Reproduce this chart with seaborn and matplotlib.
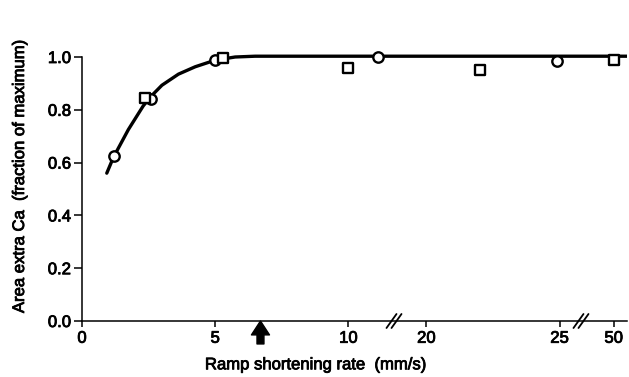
import numpy as np
import pandas as pd
import matplotlib
matplotlib.use("Agg")
import matplotlib.pyplot as plt
import matplotlib.patheffects as pe
import seaborn as sns

# ---- data ----
circle_x = [1.2, 2.6, 5.0, 11.1, 24.9]
circle_y = [0.625, 0.84, 0.99, 1.0, 0.985]
square_x = [2.35, 5.3, 10.0, 22.0, 50.0]
square_y = [0.845, 0.995, 0.96, 0.95, 0.99]
curve_x = [0.93, 1.18, 1.74, 2.3, 2.6, 3.0, 3.62, 4.25, 5.0, 5.75, 6.5, 10.0, 20.0, 25.0, 50.0, 50.5]
curve_y = [0.56, 0.62, 0.725, 0.815, 0.852, 0.893, 0.935, 0.963, 0.988, 1.0, 1.003, 1.003, 1.003, 1.003, 1.003, 1.003]
x_ticks = [0, 5, 10, 20, 25, 50]
x_ticklabels = ["0", "5", "10", "20", "25", "50"]
y_ticks = [0.0, 0.2, 0.4, 0.6, 0.8, 1.0]
y_ticklabels = ["0.0", "0.2", "0.4", "0.6", "0.8", "1.0"]
arrow_x = 6.7
xlabel = "Ramp shortening rate  (mm/s)"
ylabel = "Area extra Ca  (fraction of maximum)"

sns.set_theme(style="ticks")
plt.rcParams["font.family"] = ["Liberation Sans", "DejaVu Sans"]

fig = plt.figure(figsize=(6.29, 3.77), dpi=100)
ax = fig.add_axes([82 / 629, 56 / 377, 545 / 629, 290.4 / 377])

# broken x axis as a piecewise-linear scale
xk = [-10, 11.70, 18.80, 25.80, 48.80, 60]
dk = [-10, 11.70, 11.73, 18.73, 18.76, 29.96]


def fwd(x):
    return np.interp(x, xk, dk)


def inv(d):
    return np.interp(d, dk, xk)


ax.set_xscale("function", functions=(fwd, inv))

curve = pd.DataFrame({"x": curve_x, "y": curve_y})
circles = pd.DataFrame({"x": circle_x, "y": circle_y})
squares = pd.DataFrame({"x": square_x, "y": square_y})

sns.lineplot(data=curve, x="x", y="y", ax=ax, color="black", lw=2.4,
             sort=False, zorder=2)
sns.scatterplot(data=circles, x="x", y="y", ax=ax, marker="o", s=56,
                facecolor="white", edgecolor="black", linewidth=1.7,
                zorder=3, clip_on=False)
sns.scatterplot(data=squares, x="x", y="y", ax=ax, marker="s", s=56,
                facecolor="white", edgecolor="black", linewidth=1.7,
                zorder=3, clip_on=False)

ax.set_xlim(0, 50.5)
ax.set_ylim(0, 1.1)
ax.set_xticks(x_ticks)
ax.set_xticklabels(x_ticklabels)
ax.xaxis.set_minor_locator(matplotlib.ticker.NullLocator())
ax.set_yticks(y_ticks)
ax.set_yticklabels(y_ticklabels)

for s in ["top", "right"]:
    ax.spines[s].set_visible(False)
ax.spines["left"].set_bounds(0, 1.0)
for s in ["left", "bottom"]:
    ax.spines[s].set_linewidth(1.1)
    ax.spines[s].set_color("black")

ax.tick_params(axis="x", direction="out", length=4, width=1.1, pad=3,
               labelsize=12, colors="black")
ax.tick_params(axis="y", direction="out", length=6, width=1.1, pad=2,
               labelsize=12, colors="black")

ax.set_xlabel(xlabel, fontsize=12, color="black")
ax.set_ylabel(ylabel, fontsize=12, color="black")
ax.xaxis.set_label_coords(0.429, -0.125)
ax.yaxis.set_label_coords((27 - 82) / 545, 0.50)

bold = [pe.withStroke(linewidth=0.6, foreground="black")]
for t in ax.get_xticklabels() + ax.get_yticklabels() + [ax.xaxis.label, ax.yaxis.label]:
    t.set_path_effects(bold)

# axis break marks
W, H = 545.0, 290.4
for d in (11.73, 18.76):
    fx = d / 20.49
    for off in (-2.5, 2.5):
        ax.plot([fx + (off - 5) / W, fx + (off + 5) / W],
                [-7 / H, 7 / H], transform=ax.transAxes, color="black",
                lw=1.3, clip_on=False, zorder=5)

# arrow marker on x axis
ax.annotate("", xy=(arrow_x, 0.0), xycoords=ax.get_xaxis_transform(),
            xytext=(arrow_x, -0.079), textcoords=ax.get_xaxis_transform(),
            arrowprops=dict(arrowstyle="simple,head_length=1.0,head_width=1.3,tail_width=0.5",
                            color="black", shrinkA=0, shrinkB=0, mutation_scale=10))

fig.savefig("out.png", dpi=100)
